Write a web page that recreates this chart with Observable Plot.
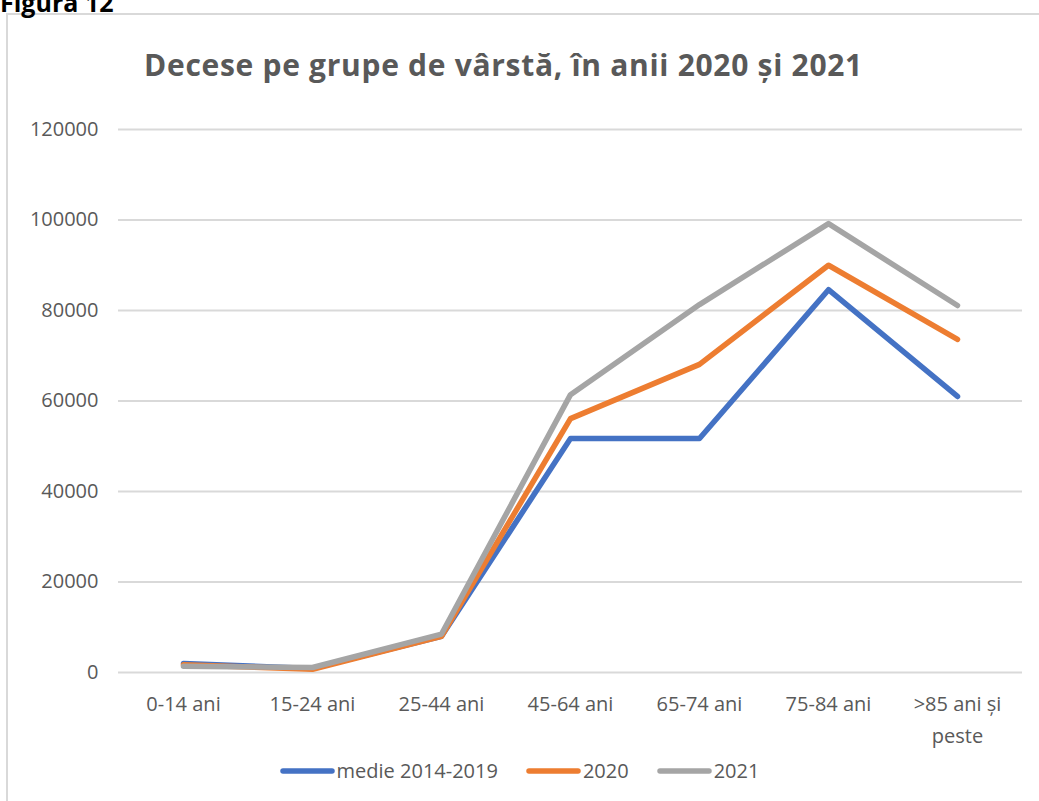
<!DOCTYPE html>
<html>
<head>
<meta charset="utf-8">
<script src="https://cdn.jsdelivr.net/npm/d3@7"></script>
<script src="https://cdn.jsdelivr.net/npm/@observablehq/plot@0.6"></script>
<style>
  html, body { margin: 0; padding: 0; background: #fff; overflow: hidden; }
  #root { position: relative; width: 1039px; height: 801px; overflow: hidden; font-family: "Open Sans", sans-serif; }
  #fig { position: absolute; left: 0; top: -15px; font-weight: bold; font-size: 25px; color: #000; }
  #box { position: absolute; left: 6px; top: 13px; width: 1100px; height: 900px; border: 2px solid #d9d9d9; box-sizing: border-box; }
  #title { position: absolute; top: 44px; left: 0; width: 1007px; text-align: center; font-weight: bold; font-size: 30px; letter-spacing: 0.7px; color: #595959; white-space: nowrap; }
  #chart { position: absolute; left: 0; top: 0; }
  #legend { position: absolute; top: 757px; left: 0; width: 1039px; display: flex; justify-content: center; gap: 28px; font-size: 20px; color: #595959; }
  .item { display: flex; align-items: center; }
  .item svg { margin-right: 2px; }
</style>
</head>
<body>
<div id="root">
  <div id="box"></div>
  <div id="fig">Figura 12</div>
  <div id="title">Decese pe grupe de vârstă, în anii 2020 și 2021</div>
  <div id="chart"></div>
  <div id="legend"></div>
</div>
<script>
const groups = ["0-14 ani", "15-24 ani", "25-44 ani", "45-64 ani", "65-74 ani", "75-84 ani", ">85 ani și\npeste"];
const seriesNames = ["medie 2014-2019", "2020", "2021"];
const seriesColors = ["#4472C4", "#ED7D31", "#A5A5A5"];
const medie = [2000, 900, 8000, 51700, 51700, 84600, 61000];
const y2020 = [1700, 700, 8000, 56100, 68100, 90000, 73600];
const y2021 = [1400, 1100, 8500, 61400, 81300, 99200, 81100];
const yTicks = [0, 20000, 40000, 60000, 80000, 100000, 120000];

const values = [medie, y2020, y2021];
const data = seriesNames.flatMap((s, i) => groups.map((g, j) => ({series: s, group: g, value: values[i][j]})));

const chart = Plot.plot({
  width: 1039,
  height: 801,
  marginTop: 129,
  marginBottom: 129,
  marginLeft: 118,
  marginRight: 17,
  style: {fontFamily: "Open Sans, sans-serif", fontSize: "20px", color: "#595959", background: "transparent"},
  x: {type: "point", domain: groups, padding: 0.5, label: null},
  y: {domain: [0, 120000], label: null},
  color: {domain: seriesNames, range: seriesColors},
  marks: [
    Plot.ruleY(yTicks, {stroke: "#d9d9d9", strokeWidth: 2}),
    Plot.axisY({ticks: yTicks, tickSize: 0, tickPadding: 20, tickFormat: d => String(d), label: null}),
    Plot.axisX({tickSize: 0, tickPadding: 16, lineHeight: 1.6, label: null}),
    Plot.line(data, {x: "group", y: "value", z: "series", stroke: "series", strokeWidth: 5.5, strokeLinecap: "round", strokeLinejoin: "round"})
  ]
});
document.getElementById("chart").appendChild(chart);

const legend = document.getElementById("legend");
seriesNames.forEach((s, i) => {
  const item = document.createElement("div");
  item.className = "item";
  item.innerHTML = `<svg width="55" height="10"><line x1="3" y1="5" x2="52" y2="5" stroke="${seriesColors[i]}" stroke-width="5.5" stroke-linecap="round"/></svg><span>${s}</span>`;
  legend.appendChild(item);
});
</script>
</body>
</html>
